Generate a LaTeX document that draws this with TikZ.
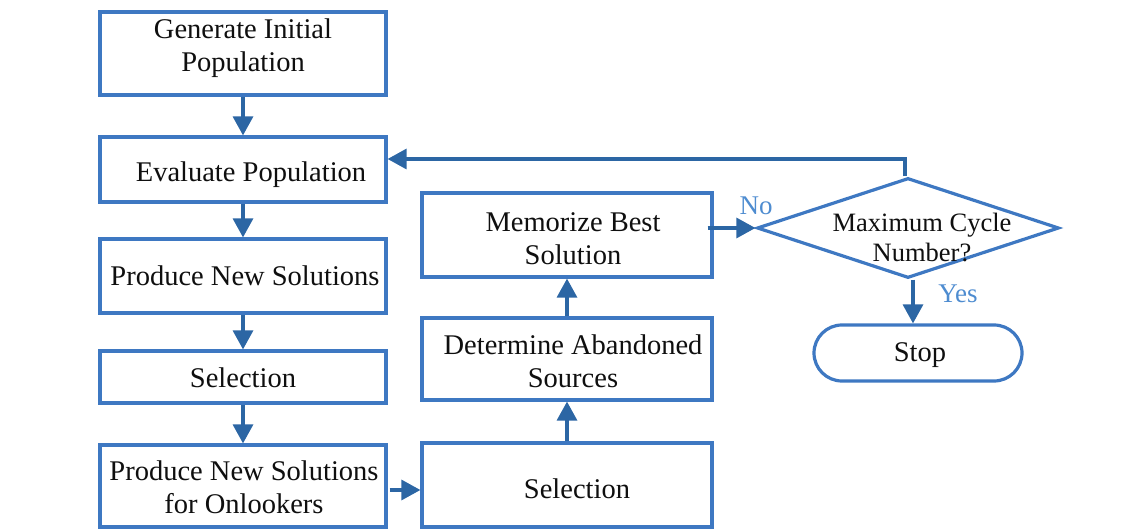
\documentclass[tikz,border=0pt]{standalone}
\usepackage{fontspec}
\setmainfont{Liberation Serif}
\usetikzlibrary{arrows.meta,shapes.geometric}
\definecolor{boxc}{RGB}{62,120,194}
\definecolor{arrc}{RGB}{44,102,164}
\definecolor{labc}{RGB}{78,140,208}
\definecolor{txtc}{RGB}{15,15,15}
\tikzset{
  stepbox/.style={draw=boxc, line width=3.2pt, fill=white, rectangle, inner sep=0pt},
  txt/.style={align=center, text=txtc, inner sep=0pt, font=\fontsize{28.5}{33}\selectfont},
  flow/.style={draw=arrc, line width=3.2pt, -{Triangle[width=20pt,length=19pt]}},
  lab/.style={text=labc, font=\fontsize{27}{30}\selectfont, inner sep=0pt}
}
\begin{document}
\begin{tikzpicture}[x=1pt,y=-1pt]
\useasboundingbox (0,0) rectangle (1143,529);
% left column boxes
\node[stepbox, minimum width=286pt, minimum height=83pt] (gen) at (243,53.5) {};
\node[stepbox, minimum width=286pt, minimum height=65pt] (eval) at (243,169.5) {};
\node[stepbox, minimum width=286pt, minimum height=74pt] (prod) at (243,276) {};
\node[stepbox, minimum width=286pt, minimum height=52pt] (sel1) at (243,377) {};
\node[stepbox, minimum width=286pt, minimum height=82pt] (onl) at (243,486) {};
% middle column boxes
\node[stepbox, minimum width=290pt, minimum height=84pt] (sel2) at (567,485) {};
\node[stepbox, minimum width=290pt, minimum height=82pt] (det) at (567,359) {};
\node[stepbox, minimum width=290pt, minimum height=84pt] (mem) at (567,235) {};
% decision and terminal
\node[diamond, draw=boxc, line width=3.2pt, minimum width=302pt, minimum height=100pt, inner sep=0pt] (dec) at (908,228) {};
\node[stepbox, rounded corners=28pt, minimum width=208pt, minimum height=56pt] (stop) at (918,353) {};
% texts
\node[txt] (gent) at (243,48) {Generate Initial\\Population};
\node[txt] (evalt) at (251,174.5) {Evaluate Population};
\node[txt] (prodt) at (245,276) {Produce New Solutions};
\node[txt] (sel1t) at (243,377.5) {Selection};
\node[txt] (onlt) at (244,487) {Produce New Solutions\\for Onlookers};
\node[txt] (sel2t) at (577,489) {Selection};
\node[txt] (dett) at (573,361.5) {Determine Abandoned\\Sources};
\node[txt] (memt) at (573,238.5) {Memorize Best\\Solution};
\node[txt, font=\fontsize{26.5}{30}\selectfont] (dect) at (922,237) {Maximum Cycle\\Number?};
\node[txt] (stopt) at (920,355) {Stop};
% connectors
\draw[flow] (gen) -- (eval);
\draw[flow] (eval) -- (prod);
\draw[flow] (prod) -- (sel1);
\draw[flow] (sel1) -- (onl);
\draw[flow] ([xshift=2pt]onl.east|-0,490) -- (sel2.west|-0,490);
\draw[flow] (sel2) -- (det);
\draw[flow] (det) -- (mem);
\draw[flow] ([xshift=-6pt]mem.east|-dec.west) -- (dec.west);
\draw[flow] (dec.north-|905,0) -- (905,159) -- (eval.east|-0,159);
\draw[flow] (dec.south-|913,0) -- (stop.north-|913,0);
% labels
\node[lab] (no) at (756,206) {No};
\node[lab] (yes) at (958,294) {Yes};
\end{tikzpicture}
\end{document}
